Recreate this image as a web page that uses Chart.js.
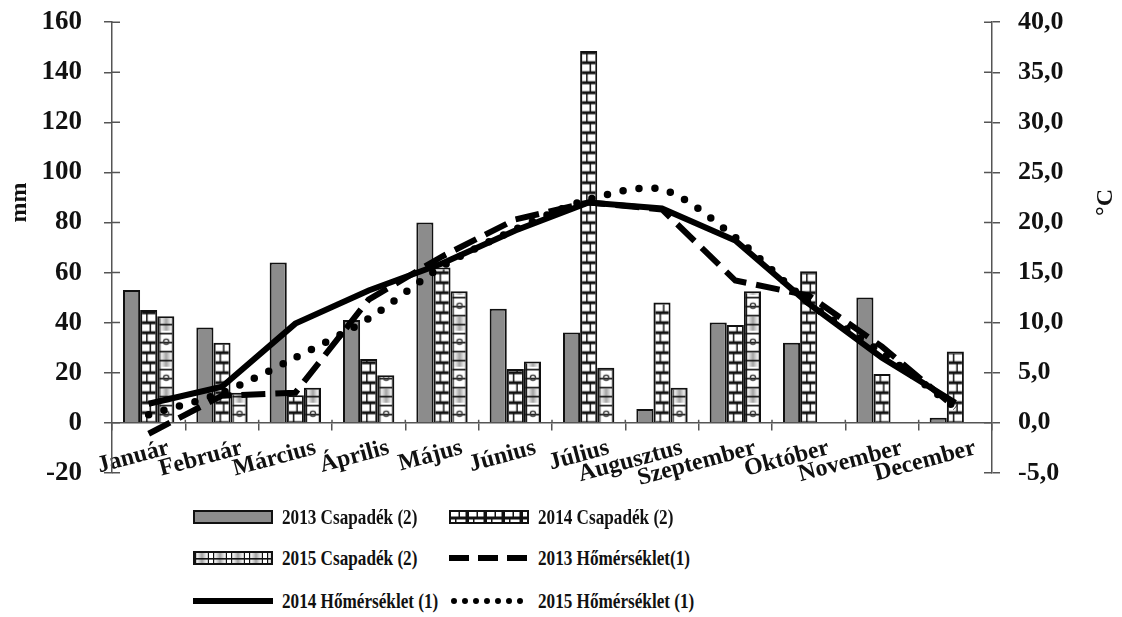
<!DOCTYPE html>
<html>
<head>
<meta charset="utf-8">
<script src="https://cdn.jsdelivr.net/npm/chart.js@4.4.1/dist/chart.umd.min.js"></script>
<style>
  body { margin: 0; background: #fff; font-family: 'Liberation Serif', 'Times New Roman', serif; }
  #wrap { position: relative; width: 1122px; height: 617px; overflow: hidden; }
  #chart-box { position: absolute; left: 0; top: -16px; width: 1122px; height: 527px; }
  .legend-item { position: absolute; display: flex; align-items: center; font-size: 22px; font-weight: bold; color: #111; white-space: nowrap; height: 28px; }
  .legend-item canvas { margin-right: 9px; }
  .legend-item span { display: inline-block; transform: scaleX(0.78); transform-origin: left center; }
</style>
</head>
<body>
<div id="wrap">
  <div id="chart-box"><canvas id="climate-chart"></canvas></div>
  <div id="legend"></div>
</div>
<script>
// Data
const months = ['Január', 'Február', 'Március', 'Április', 'Május', 'Június',
  'Július', 'Augusztus', 'Szeptember', 'Október', 'November', 'December'];

// Precipitation (mm), left axis
const rain2013 = [53, 38, 64, 41, 80, 45.5, 36, 5.5, 40, 32, 50, 2];
const rain2014 = [45, 32, 11, 25.5, 62, 21.5, 148.5, 48, 39, 60.5, 19.5, 28.5];
const rain2015 = [42.5, 12, 14, 19, 52.5, 24.5, 22, 14, 52.5, null, null, null];

// Temperature (°C), right axis
const temp2013 = [-1.1, 2.7, 3.0, 12.3, 16.6, 20.3, 22.0, 21.3, 14.2, 12.7, 7.6, 1.5];
const temp2014 = [1.9, 3.6, 9.9, 13.2, 15.9, 19.2, 22.0, 21.4, 18.2, 11.9, 6.5, 2.0];
const temp2015 = [0.8, 3.0, 6.5, 10.4, 15.6, 19.3, 22.3, 23.3, 18.5, 12.0, 7.0, 1.5];

// Axis ticks
const mmTicks = { min: -20, max: 160, step: 20 };
const tempTicks = { min: -5, max: 40, step: 5 };

const textColor = '#111';
const axisColor = '#555';
const serif = "'Liberation Serif', 'Times New Roman', serif";
const groupShare = 0.7;

// Brick-like tile for 2014 bars
function makeBrickTile() {
  const c = document.createElement('canvas');
  c.width = 18; c.height = 20;
  const g = c.getContext('2d');
  g.fillStyle = '#111';
  g.fillRect(0, 0, 18, 20);
  g.fillStyle = '#fff';
  g.fillRect(2, 1.5, 7.5, 7);
  g.fillRect(11, 1.5, 5.5, 7);
  g.fillRect(2, 11.5, 4, 7);
  g.fillRect(7.5, 11.5, 9, 7);
  return c;
}

// Shaded striped tile for 2015 bars
function makeShadeTile() {
  const c = document.createElement('canvas');
  c.width = 18; c.height = 36;
  const g = c.getContext('2d');
  g.fillStyle = '#fff';
  g.fillRect(0, 0, 18, 36);
  const grad = g.createLinearGradient(3, 0, 15, 0);
  grad.addColorStop(0, 'rgba(150,150,150,0)');
  grad.addColorStop(0.5, 'rgba(130,130,130,0.75)');
  grad.addColorStop(1, 'rgba(150,150,150,0)');
  g.fillStyle = grad;
  g.fillRect(3, 2, 12, 14);
  g.fillStyle = '#111';
  for (let y = 0; y < 36; y += 9) g.fillRect(0, y, 18, 1.6);
  g.fillRect(2, 0, 1.2, 36);
  g.fillRect(14.8, 0, 1.2, 36);
  g.strokeStyle = '#333';
  g.lineWidth = 1.3;
  g.beginPath();
  g.arc(9, 27, 2.6, 0, Math.PI * 2);
  g.stroke();
  return c;
}

const brickTile = makeBrickTile();
const shadeTile = makeShadeTile();

// Pattern anchored to each bar so the cells line up with its edges
function barFill(tile, slot) {
  return function(context) {
    const chart = context.chart;
    const xScale = chart.scales.x;
    const yScale = chart.scales.y;
    if (!xScale || !yScale || context.dataIndex === undefined) return '#fff';
    const catW = xScale.width / months.length;
    const barW = catW * groupShare / 3;
    const left = xScale.getPixelForValue(context.dataIndex) - catW * groupShare / 2 + slot * barW;
    const pattern = chart.ctx.createPattern(tile, 'repeat');
    pattern.setTransform(new DOMMatrix().translate(left, yScale.getPixelForValue(0)));
    return pattern;
  };
}

// Axis titles (a bit above the middle) and tick marks crossing the axis lines
const axisExtras = {
  id: 'axisExtras',
  afterDraw: function(chart) {
    const c = chart.ctx;
    const yl = chart.scales.y;
    const yr = chart.scales.y1;
    const xs = chart.scales.x;

    c.save();
    c.strokeStyle = axisColor;
    c.lineWidth = 1.5;
    c.beginPath();
    yl.ticks.forEach(function(t, i) {
      const py = yl.getPixelForTick(i);
      c.moveTo(yl.right, py); c.lineTo(yl.right + 8, py);
    });
    yr.ticks.forEach(function(t, i) {
      const py = yr.getPixelForTick(i);
      c.moveTo(yr.left - 8, py); c.lineTo(yr.left, py);
    });
    const zeroY = yl.getPixelForValue(0);
    const catW = xs.width / months.length;
    for (let i = 1; i < months.length; i++) {
      const px = xs.left + i * catW;
      c.moveTo(px, zeroY - 3); c.lineTo(px, zeroY);
    }
    c.stroke();
    c.restore();

    c.save();
    c.fillStyle = textColor;
    c.font = 'bold 24px ' + serif;
    c.textAlign = 'center';
    c.textBaseline = 'middle';
    c.translate(yl.left + 20, yl.getPixelForValue(88));
    c.rotate(-Math.PI / 2);
    c.fillText('mm', 0, 0);
    c.restore();

    c.save();
    c.fillStyle = textColor;
    c.font = 'bold 24px ' + serif;
    c.textAlign = 'center';
    c.textBaseline = 'middle';
    c.translate(yr.right - 16, yr.getPixelForValue(22));
    c.rotate(-Math.PI / 2);
    c.fillText('°C', 0, 0);
    c.restore();
  }
};

const ctx = document.getElementById('climate-chart').getContext('2d');

new Chart(ctx, {
  type: 'bar',
  data: {
    labels: months,
    datasets: [
      {
        type: 'line', label: '2013 Hőmérséklet(1)', data: temp2013, yAxisID: 'y1',
        borderColor: '#000', borderWidth: 6, borderDash: [24, 10], borderCapStyle: 'butt',
        pointRadius: 0, tension: 0, order: 1
      },
      {
        type: 'line', label: '2014 Hőmérséklet (1)', data: temp2014, yAxisID: 'y1',
        borderColor: '#000', borderWidth: 6, pointRadius: 0, tension: 0, order: 1
      },
      {
        type: 'line', label: '2015 Hőmérséklet (1)', data: temp2015, yAxisID: 'y1',
        borderColor: '#000', borderWidth: 7.5, borderDash: [0, 16], borderCapStyle: 'round',
        pointRadius: 0, tension: 0.3, order: 1
      },
      {
        label: '2013 Csapadék (2)', data: rain2013, yAxisID: 'y',
        backgroundColor: '#8c8c8c', borderColor: '#111', borderWidth: 2, order: 2
      },
      {
        label: '2014 Csapadék (2)', data: rain2014, yAxisID: 'y',
        backgroundColor: barFill(brickTile, 1), borderColor: '#111', borderWidth: 2, order: 2
      },
      {
        label: '2015 Csapadék (2)', data: rain2015, yAxisID: 'y',
        backgroundColor: barFill(shadeTile, 2), borderColor: '#111', borderWidth: 2, order: 2
      }
    ]
  },
  options: {
    responsive: true,
    maintainAspectRatio: false,
    animation: false,
    datasets: {
      bar: { categoryPercentage: groupShare, barPercentage: 1.0 }
    },
    layout: { padding: { top: 8, bottom: 3, left: 0, right: 0 } },
    plugins: {
      legend: { display: false },
      tooltip: { enabled: false }
    },
    scales: {
      x: {
        position: { y: 0 },
        grid: { offset: true, drawOnChartArea: false, tickLength: 7, color: axisColor, lineWidth: 1.5 },
        border: { color: axisColor, width: 1.5 },
        ticks: {
          color: textColor, font: { family: serif, size: 24, weight: 'bold' },
          minRotation: 15, maxRotation: 15, autoSkip: false, padding: 4, labelOffset: 20
        }
      },
      y: {
        position: 'left',
        min: mmTicks.min, max: mmTicks.max,
        afterFit: function(scale) { scale.width = 112; },
        grid: { drawOnChartArea: false, tickLength: 8, color: axisColor, lineWidth: 1.5 },
        border: { color: axisColor, width: 1.5 },
        ticks: { stepSize: mmTicks.step, color: textColor, font: { family: serif, size: 27, weight: 'bold' }, padding: 22 }
      },
      y1: {
        position: 'right',
        min: tempTicks.min, max: tempTicks.max,
        afterFit: function(scale) { scale.width = 130; },
        grid: { drawOnChartArea: false, tickLength: 8, color: axisColor, lineWidth: 1.5 },
        border: { color: axisColor, width: 1.5 },
        ticks: {
          stepSize: tempTicks.step, color: textColor, font: { family: serif, size: 26, weight: 'bold' }, padding: 18,
          callback: function(value) { return value.toFixed(1).replace('.', ','); }
        }
      }
    }
  },
  plugins: [axisExtras]
});

// Legend below the chart, two columns like the original
const legendItems = [
  { label: '2013 Csapadék (2)', kind: 'gray', x: 193, y: 503 },
  { label: '2014 Csapadék (2)', kind: 'brick', x: 449, y: 503 },
  { label: '2015 Csapadék (2)', kind: 'shade', x: 193, y: 544 },
  { label: '2013 Hőmérséklet(1)', kind: 'dash', x: 449, y: 544 },
  { label: '2014 Hőmérséklet (1)', kind: 'solid', x: 193, y: 587 },
  { label: '2015 Hőmérséklet (1)', kind: 'dot', x: 449, y: 587 }
];

const legendBox = document.getElementById('legend');
legendItems.forEach(function(item) {
  const div = document.createElement('div');
  div.className = 'legend-item';
  div.style.left = item.x + 'px';
  div.style.top = item.y + 'px';
  const sw = document.createElement('canvas');
  sw.width = 80; sw.height = 18;
  const g = sw.getContext('2d');
  if (item.kind === 'gray' || item.kind === 'brick' || item.kind === 'shade') {
    if (item.kind === 'gray') g.fillStyle = '#8c8c8c';
    else g.fillStyle = g.createPattern(item.kind === 'brick' ? brickTile : shadeTile, 'repeat');
    g.fillRect(1, 3, 78, 12);
    g.strokeStyle = '#111';
    g.lineWidth = 2;
    g.strokeRect(1, 3, 78, 12);
  } else {
    g.strokeStyle = '#000';
    g.beginPath();
    g.moveTo(item.kind === 'dot' ? 5 : 0, 9);
    g.lineTo(80, 9);
    if (item.kind === 'dash') { g.lineWidth = 6; g.setLineDash([20, 9]); }
    if (item.kind === 'solid') { g.lineWidth = 6; }
    if (item.kind === 'dot') { g.lineWidth = 6; g.lineCap = 'round'; g.setLineDash([0, 11]); }
    g.stroke();
  }
  div.appendChild(sw);
  const span = document.createElement('span');
  span.textContent = item.label;
  div.appendChild(span);
  legendBox.appendChild(div);
});
</script>
</body>
</html>
